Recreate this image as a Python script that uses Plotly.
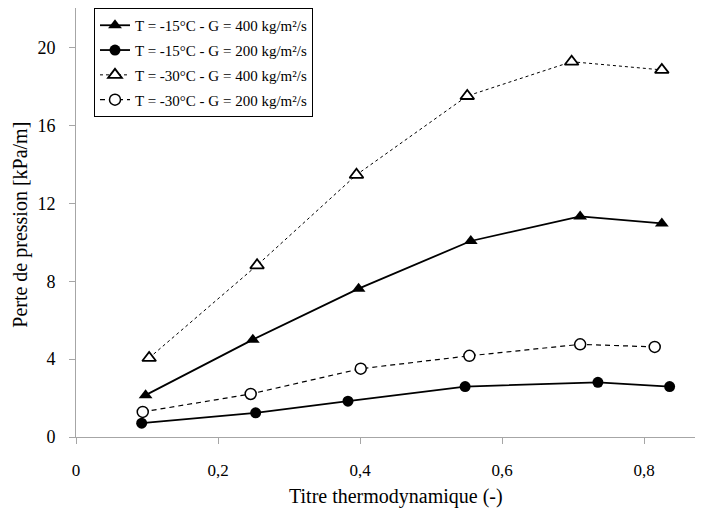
import plotly.graph_objects as go

names = ["T = -15°C - G = 400 kg/m²/s", "T = -15°C - G = 200 kg/m²/s",
         "T = -30°C - G = 400 kg/m²/s", "T = -30°C - G = 200 kg/m²/s"]

x_t15_g400 = [0.098, 0.249, 0.398, 0.556, 0.710, 0.825]
y_t15_g400 = [2.15, 5.00, 7.62, 10.07, 11.33, 10.97]

x_t15_g200 = [0.0925, 0.253, 0.383, 0.548, 0.735, 0.836]
y_t15_g200 = [0.71, 1.24, 1.84, 2.59, 2.81, 2.59]

x_t30_g400 = [0.103, 0.255, 0.395, 0.551, 0.698, 0.825]
y_t30_g400 = [4.06, 8.82, 13.47, 17.52, 19.28, 18.86]

x_t30_g200 = [0.094, 0.246, 0.401, 0.554, 0.710, 0.815]
y_t30_g200 = [1.29, 2.21, 3.51, 4.17, 4.76, 4.63]

x_ticks = [0, 0.2, 0.4, 0.6, 0.8]
x_ticklabels = ["0", "0,2", "0,4", "0,6", "0,8"]
y_ticks = [0, 4, 8, 12, 16, 20]

x_title = "Titre thermodynamique (-)"
y_title = "Perte de pression [kPa/m]"

FONT = "Liberation Serif"

fig = go.Figure()
fig.add_trace(go.Scatter(x=x_t15_g400, y=y_t15_g400, name=names[0], mode="lines+markers",
                         legendgroup="a",
                         line=dict(color="black", width=1.8),
                         marker=dict(symbol="triangle-up", size=12, color="black")))
fig.add_trace(go.Scatter(x=x_t15_g200, y=y_t15_g200, name=names[1], mode="lines+markers",
                         legendgroup="b",
                         line=dict(color="black", width=1.8),
                         marker=dict(symbol="circle", size=11, color="black")))
fig.add_trace(go.Scatter(x=x_t30_g400, y=y_t30_g400, name=names[2], mode="lines+markers",
                         legendgroup="c",
                         line=dict(color="black", width=1, dash="3px,3px"),
                         marker=dict(symbol="triangle-up", size=12, color="white",
                                     line=dict(color="black", width=1.8))))
fig.add_trace(go.Scatter(x=x_t30_g200, y=y_t30_g200, name=names[3], mode="lines+markers",
                         legendgroup="d",
                         line=dict(color="black", width=1.2, dash="5px,4px"),
                         marker=dict(symbol="circle", size=11, color="white",
                                     line=dict(color="black", width=1.5))))

axis_common = dict(showgrid=False, zeroline=False, showline=True, linecolor="#A6A6A6",
                   linewidth=1, ticks="outside", tickcolor="#A6A6A6", ticklen=6,
                   automargin=False)

fig.update_xaxes(range=[0, 0.883], tickvals=x_ticks, ticktext=x_ticklabels,
                 tickfont=dict(family=FONT, size=17, color="black"),
                 ticklabelstandoff=12, **axis_common)
fig.update_yaxes(range=[0, 22.04], tickvals=y_ticks,
                 tickfont=dict(family=FONT, size=18, color="black"),
                 ticklabelstandoff=10, **axis_common)

fig.add_annotation(text=x_title, xref="paper", yref="paper", x=0.510, y=-0.1385,
                   xanchor="center", yanchor="middle", showarrow=False,
                   font=dict(family=FONT, size=20, color="black"))
fig.add_annotation(text=y_title, xref="paper", yref="paper", x=-0.0877, y=0.4948,
                   xanchor="center", yanchor="middle", showarrow=False, textangle=-90,
                   font=dict(family=FONT, size=20, color="black"))

fig.update_layout(
    width=695, height=507,
    margin=dict(l=68, r=0, t=0, b=77.5, autoexpand=False),
    paper_bgcolor="white", plot_bgcolor="white",
    font=dict(family=FONT, size=15, color="black"),
    showlegend=True,
    legend=dict(x=0.0287, y=1.0, xanchor="left", yanchor="top",
                bordercolor="black", borderwidth=1, bgcolor="white",
                font=dict(family=FONT, size=15, color="black"),
                tracegroupgap=2.3, itemwidth=30),
)

fig.write_html("out.html")
